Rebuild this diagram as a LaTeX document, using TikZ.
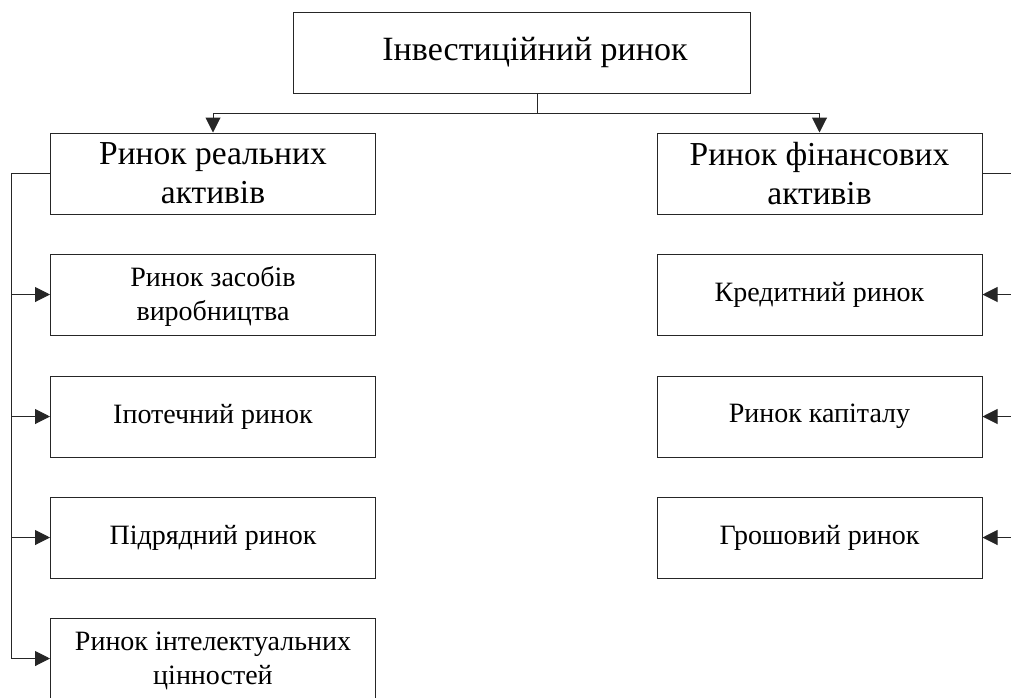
\documentclass[tikz,border=0pt]{standalone}
\usepackage{fontspec}
\setmainfont{Liberation Serif}
\usetikzlibrary{arrows.meta}
\begin{document}
\begin{tikzpicture}[x=1pt,y=-1pt,
  line width=1pt,
  box/.style={draw=black!85, rectangle, inner sep=0pt, align=center},
  topbox/.style={box, minimum width=457pt, minimum height=81pt, font=\fontsize{34}{40}\selectfont},
  midbox/.style={box, minimum width=325pt, minimum height=81pt, font=\fontsize{33.5}{39}\selectfont},
  subbox/.style={box, minimum width=325pt, minimum height=81pt, font=\fontsize{28}{34}\selectfont},
  link/.style={draw=black!85},
  arr/.style={link, -{Triangle[length=15pt,width=15pt]}}
]
\useasboundingbox (0,0) rectangle (1011,697);
\begin{scope}
\clip (0,0) rectangle (1011,697);

% root
\node[topbox] (root) at (521.5,52.5) {\hspace*{27pt}Інвестиційний ринок};

% two main branches
\node[midbox] (real) at (213,173.5) {Ринок реальних\\активів};
\node[midbox] (fin)  at (819.5,173.5) {Ринок фінансових\\активів};

% real assets sub-markets
\node[subbox] (r1) at (213,294.5) {\rule{0pt}{24pt}Ринок засобів\\виробництва};
\node[subbox] (r2) at (213,416.5) {Іпотечний ринок};
\node[subbox] (r3) at (213,537.5) {Підрядний ринок};
\node[subbox] (r4) at (213,658.5) {\rule{0pt}{24pt}Ринок інтелектуальних\\цінностей};

% financial assets sub-markets
\node[subbox] (f1) at (819.5,294.5) {Кредитний ринок};
\node[subbox] (f2) at (819.5,416.5) {Ринок капіталу};
\node[subbox] (f3) at (819.5,537.5) {Грошовий ринок};

% root to branches
\coordinate (stem) at ([xshift=15.5pt]root.south);
\draw[link] (stem) -- ++(0,20) coordinate (busmid);
\draw[arr] (busmid) -| (real.north);
\draw[arr] (busmid) -| (fin.north);

% left rail
\coordinate (lrail) at (11,0);
\draw[link] (real.west) -- (real.west -| lrail) -- (r4.west -| lrail);
\foreach \n in {r1,r2,r3,r4}
  \draw[arr] (\n.west -| lrail) -- (\n.west);

% right rail (runs past the right edge)
\coordinate (rrail) at (1040,0);
\draw[link] (fin.east) -- (fin.east -| rrail) -- (f3.east -| rrail);
\foreach \n in {f1,f2,f3}
  \draw[arr] (\n.east -| rrail) -- (\n.east);
\end{scope}
\end{tikzpicture}
\end{document}
